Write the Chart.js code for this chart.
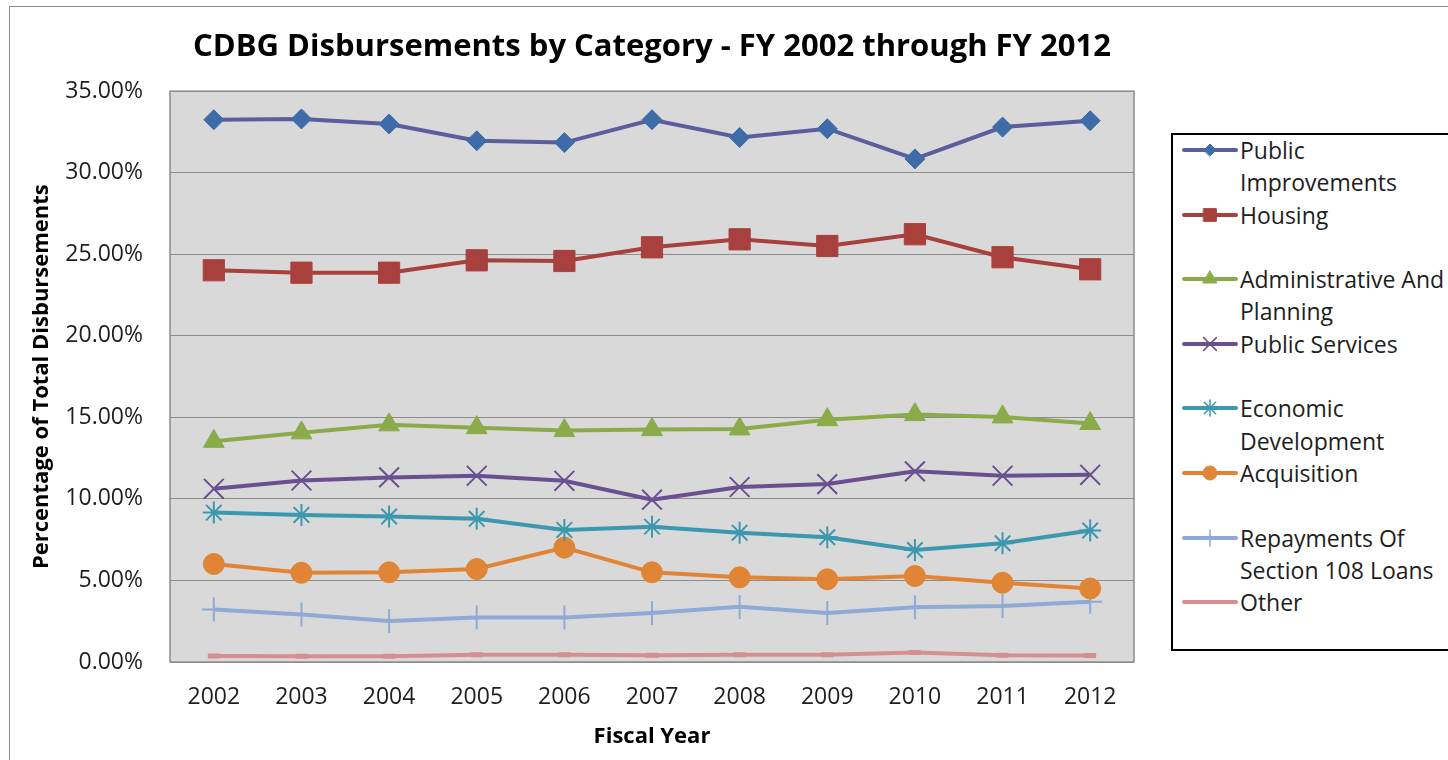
<!DOCTYPE html>
<html>
<head>
<meta charset="utf-8">
<script src="https://cdn.jsdelivr.net/npm/chart.js@4.4.1/dist/chart.umd.min.js"></script>
<style>
  html, body { margin: 0; padding: 0; background: #fff; overflow: hidden; }
  #wrap { position: relative; width: 1448px; height: 760px; }
  #frame { position: absolute; left: 9px; top: 6px; width: 1500px; height: 800px; border: 1.5px solid #8c8c8c; }
  #myChart { position: absolute; left: 0; top: 0; }
  #legend { position: absolute; left: 1171px; top: 133px; width: 320px; height: 514px;
    border: 2px solid #000; background: #fff; font-family: "Open Sans", sans-serif; font-size: 23px; color: #1e1e1e; }
  .item { position: absolute; left: 8px; height: 64px; }
  .item canvas { position: absolute; left: 0; top: 0; }
  .item div { position: absolute; left: 59px; top: 0; line-height: 32.3px; white-space: pre; }
</style>
</head>
<body>
<div id="wrap">
  <div id="frame"></div>
  <canvas id="myChart" width="1448" height="760"></canvas>
  <div id="legend"></div>
</div>
<script>
const years = ['2002', '2003', '2004', '2005', '2006', '2007', '2008', '2009', '2010', '2011', '2012'];

const publicImprovements = [33.25, 33.30, 32.99, 31.96, 31.85, 33.25, 32.16, 32.70, 30.85, 32.80, 33.19];
const housing = [24.02, 23.87, 23.87, 24.63, 24.59, 25.43, 25.92, 25.51, 26.23, 24.82, 24.08];
const adminPlanning = [13.53, 14.05, 14.54, 14.37, 14.19, 14.25, 14.29, 14.86, 15.17, 15.03, 14.62];
const publicServices = [10.62, 11.13, 11.32, 11.42, 11.11, 9.95, 10.73, 10.91, 11.69, 11.42, 11.48];
const economicDev = [9.16, 9.02, 8.92, 8.78, 8.10, 8.30, 7.93, 7.65, 6.87, 7.28, 8.06];
const acquisition = [6.01, 5.47, 5.50, 5.70, 7.01, 5.50, 5.19, 5.07, 5.27, 4.86, 4.51];
const repayments108 = [3.22, 2.92, 2.52, 2.73, 2.73, 3.01, 3.38, 3.01, 3.35, 3.44, 3.69];
const other = [0.37, 0.35, 0.35, 0.45, 0.45, 0.41, 0.45, 0.45, 0.58, 0.41, 0.40];

const seriesNames = ['Public Improvements', 'Housing', 'Administrative And Planning', 'Public Services',
  'Economic Development', 'Acquisition', 'Repayments Of Section 108 Loans', 'Other'];
// how the legend wraps each name
const legendText = ['Public\nImprovements', 'Housing', 'Administrative And\nPlanning', 'Public Services',
  'Economic\nDevelopment', 'Acquisition', 'Repayments Of\nSection 108 Loans', 'Other'];

const yTicks = [0, 5, 10, 15, 20, 25, 30, 35];

const font = '"Open Sans", sans-serif';

const styles = [
  { line: '#5b5e9e', fill: '#3e6ca9', point: 'rectRot', r: 10, lr: 6, bw: 1 },
  { line: '#a8403d', fill: '#a8403d', point: 'rect', r: 15, lr: 9, bw: 1 },
  { line: '#8bab4b', fill: '#8bab4b', point: 'triangle', r: 12, lr: 8, bw: 1 },
  { line: '#6a5090', fill: '#6a5090', point: 'crossRot', r: 14, lr: 9, bw: 2 },
  { line: '#3c98ae', fill: '#3c98ae', point: 'star', r: 11, lr: 8, bw: 2 },
  { line: '#e08535', fill: '#e08535', point: 'circle', r: 10.5, lr: 7, bw: 1 },
  { line: '#8faad5', fill: '#8faad5', point: 'cross', r: 12, lr: 8, bw: 2 },
  { line: '#d68e8e', fill: '#d68e8e', point: 'line', r: 6, lr: 0, bw: 5 }
];

const values = [publicImprovements, housing, adminPlanning, publicServices, economicDev, acquisition, repayments108, other];

const datasets = values.map((data, i) => ({
  label: seriesNames[i],
  data: data,
  borderColor: styles[i].line,
  backgroundColor: styles[i].fill,
  borderWidth: 4,
  tension: 0,
  pointStyle: styles[i].point,
  pointRadius: styles[i].r,
  pointHoverRadius: styles[i].r,
  pointBackgroundColor: styles[i].fill,
  pointBorderColor: styles[i].fill,
  pointBorderWidth: styles[i].bw
}));

const plotBg = {
  id: 'plotBg',
  beforeDraw(chart) {
    const { ctx, chartArea: a } = chart;
    ctx.save();
    ctx.fillStyle = '#d9d9d9';
    ctx.fillRect(a.left, a.top, a.right - a.left, a.bottom - a.top);
    ctx.restore();
  },
  afterDatasetsDraw(chart) {
    const { ctx, chartArea: a } = chart;
    ctx.save();
    ctx.strokeStyle = '#8c8c8c';
    ctx.lineWidth = 1.5;
    ctx.strokeRect(a.left, a.top, a.right - a.left, a.bottom - a.top);
    ctx.restore();
  }
};

const ctx = document.getElementById('myChart').getContext('2d');
const myChart = new Chart(ctx, {
  type: 'line',
  data: { labels: years, datasets: datasets },
  plugins: [plotBg],
  options: {
    responsive: false,
    animation: false,
    layout: { padding: { left: 0, right: 314, top: 0, bottom: 0 } },
    plugins: {
      legend: { display: false },
      tooltip: { enabled: false },
      title: {
        display: true,
        fullSize: false,
        text: 'CDBG Disbursements by Category - FY 2002 through FY 2012',
        color: '#000',
        font: { family: font, size: 31, weight: 'bold', lineHeight: 1.2 },
        padding: { top: 29, bottom: 25 }
      }
    },
    scales: {
      x: {
        offset: true,
        grid: { display: false, drawTicks: false },
        border: { display: false },
        ticks: { color: '#1e1e1e', padding: 22, font: { family: font, size: 23 } },
        title: {
          display: true, text: 'Fiscal Year', color: '#000',
          font: { family: font, size: 22, weight: 'bold', lineHeight: 1.2 },
          padding: { top: 0, bottom: 10 }
        },
        afterFit: (scale) => { scale.height = 98; }
      },
      y: {
        min: 0,
        max: 35,
        afterBuildTicks: (scale) => { scale.ticks = yTicks.map(v => ({ value: v })); },
        grid: { color: '#8c8c8c', lineWidth: 1, drawTicks: false },
        border: { display: false },
        ticks: {
          color: '#1e1e1e', padding: 27, font: { family: font, size: 23 },
          callback: (v) => v.toFixed(2) + '%'
        },
        title: {
          display: true, text: 'Percentage of Total Disbursements', color: '#000',
          font: { family: font, size: 22, weight: 'bold', lineHeight: 1.2 },
          padding: { top: 29, bottom: 0 }
        },
        afterFit: (scale) => { scale.width = 170; }
      }
    }
  }
});

// legend drawn by hand so the names can wrap like the original
const legend = document.getElementById('legend');
legendText.forEach((txt, i) => {
  const item = document.createElement('div');
  item.className = 'item';
  item.style.top = (-1 + i * 64.6) + 'px';
  const c = document.createElement('canvas');
  c.width = 58;
  c.height = 32;
  const lc = c.getContext('2d');
  lc.strokeStyle = styles[i].line;
  lc.lineWidth = 4;
  lc.lineCap = 'round';
  lc.beginPath();
  lc.moveTo(3, 16);
  lc.lineTo(55, 16);
  lc.stroke();
  if (styles[i].lr > 0) {
    lc.fillStyle = styles[i].fill;
    lc.strokeStyle = styles[i].fill;
    lc.lineWidth = styles[i].bw === 2 ? 1.5 : 1;
    Chart.helpers.drawPoint(lc, { pointStyle: styles[i].point, radius: styles[i].lr, rotation: 0, borderWidth: lc.lineWidth }, 29, 16);
  }
  const label = document.createElement('div');
  label.textContent = txt;
  item.appendChild(c);
  item.appendChild(label);
  legend.appendChild(item);
});
</script>
</body>
</html>
